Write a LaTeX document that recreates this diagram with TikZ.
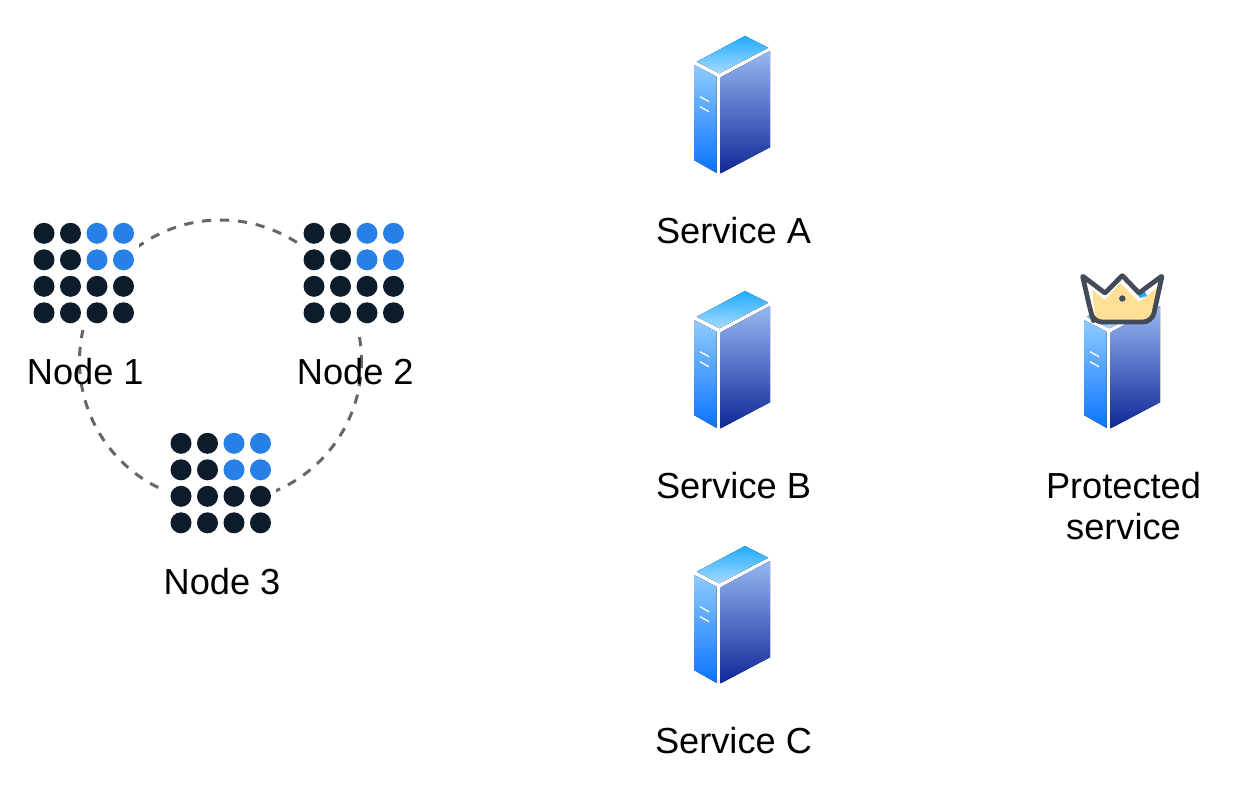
\documentclass[tikz,border=0pt]{standalone}
\usepackage{fontspec}
\setmainfont{Liberation Sans}
\definecolor{dotdark}{HTML}{0D1C2B}
\definecolor{dotblue}{HTML}{2680E6}
\definecolor{ringgrey}{HTML}{666666}
\definecolor{crownline}{HTML}{434B56}
\definecolor{crownfill}{HTML}{FFDF94}
\definecolor{topa}{HTML}{1FACFE}
\definecolor{topb}{HTML}{A6DAFF}
\definecolor{lefta}{HTML}{8FCBFF}
\definecolor{leftb}{HTML}{0A74FF}
\definecolor{righta}{HTML}{97B8F2}
\definecolor{rightb}{HTML}{0E2897}
\tikzset{
  lbl/.style={font=\fontsize{36.2}{41.3}\selectfont, align=center, inner sep=0pt, text=black},
  backing/.style={fill=white, draw=none, inner sep=0pt, minimum width=110pt, minimum height=110pt, anchor=south west},
  ring/.style={draw=ringgrey, line width=3pt, dash pattern=on 9.2pt off 8.8pt, dash phase=2pt},
  grid/.pic={
    \foreach \r in {0,1,2,3} \foreach \c in {0,1,2,3} {
      \pgfmathsetmacro{\isblue}{(\c>1 && \r<2) ? 1 : 0}
      \ifdim\isblue pt>0.5pt
        \fill[dotblue] (44+26.5*\c, 233.3+26.5*\r) circle (10.5);
      \else
        \fill[dotdark] (44+26.5*\c, 233.3+26.5*\r) circle (10.5);
      \fi
    }
  },
  server/.pic={
    \fill[top color=topa, bottom color=topb] (696.7,61.7) -- (745,36) -- (768.3,47.7) -- (719.3,73.3) -- cycle;
    \fill[top color=lefta, bottom color=leftb] (694,65) -- (716.7,76.7) -- (716.7,173) -- (694,160) -- cycle;
    \fill[top color=righta, bottom color=rightb] (720.7,77.3) -- (770,51) -- (770,147.3) -- (720.7,173.3) -- cycle;
    \draw[white, line width=1.3pt] (700,96.7) -- (709,101.7) (700,106.7) -- (709,111.7);
  }
}
\begin{document}
\begin{tikzpicture}[x=1pt,y=-1pt]
\useasboundingbox (0,0) rectangle (1233,795);
\draw[ring] (220.5,361) circle (141);
% node image backings and dot grids
\node[backing] (grid1) at (29,330) {};
\node[backing] (grid2) at (299,330) {};
\node[backing] (grid3) at (166,540) {};
\pic at (0,0) {grid};
\pic at (270,0) {grid};
\pic at (137,210) {grid};
\node[lbl] (n1) at (85.3,372) {Node 1};
\node[lbl] (n2) at (355.3,372) {Node 2};
\node[lbl] (n3) at (222,582) {Node 3};
% services
\pic at (0,0) {server};
\pic at (0,255) {server};
\pic at (0,510) {server};
\pic at (390,255) {server};
\node[lbl] (sa) at (733.5,231) {Service A};
\node[lbl] (sb) at (733.5,486) {Service B};
\node[lbl] (sc) at (733.5,741) {Service C};
\node[lbl] (ps) at (1123.5,506.3) {Protected\\service};
% crown
\fill[white] (1084,278) -- (1105,295) -- (1122,277) -- (1139,295) -- (1160,278) -- (1152,320) -- (1095,320) -- cycle;
\fill[topa] (1136,292) -- (1143,288) -- (1147,296) -- (1140,298) -- cycle;
\fill[crownfill] (1092,290) -- (1105,300) -- (1120,283) -- (1139,302) -- (1158,287) -- (1152,320) -- (1096,320) -- cycle;
\draw[crownline, line width=4.8pt, line join=round, rounded corners=0.5pt] (1082.5,276) -- (1105,293) -- (1122.3,275.5) -- (1139,293) -- (1162,276) -- (1154,313) [rounded corners=8pt] -- (1151,322) -- (1094,322) -- (1091,313) [rounded corners=0.5pt] -- cycle;
\fill[crownline] (1122.3,298.5) circle (3.2);
\end{tikzpicture}
\end{document}
